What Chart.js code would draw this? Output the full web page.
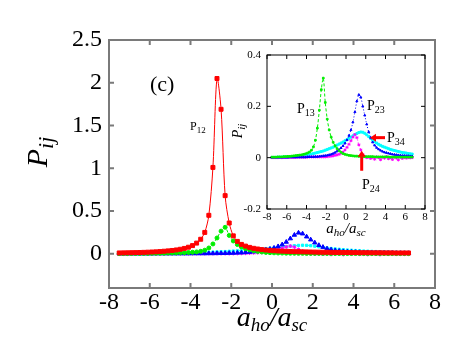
<!DOCTYPE html>
<html>
<head>
<meta charset="utf-8">
<script src="https://cdn.jsdelivr.net/npm/chart.js@4.4.0/dist/chart.umd.min.js"></script>
<style>
  body { margin: 0; background: #fff; }
</style>
</head>
<body>
<canvas id="main" width="463" height="358"></canvas>
<script>
// a_ho/a_sc grid
const xs = [-7.5,-7.3,-7.1,-6.9,-6.7,-6.5,-6.3,-6.1,-5.9,-5.7,-5.5,-5.3,-5.1,-4.9,-4.7,-4.5,-4.3,-4.1,-3.9,-3.7,
  -3.5,-3.3,-3.1,-2.9,-2.7,-2.5,-2.3,-2.1,-1.9,-1.7,-1.5,-1.3,-1.1,-0.9,-0.7,-0.5,-0.3,-0.1,0.1,0.3,
  0.5,0.7,0.9,1.1,1.3,1.5,1.7,1.9,2.1,2.3,2.5,2.7,2.9,3.1,3.3,3.5,3.7,3.9,4.1,4.3,
  4.5,4.7,4.9,5.1,5.3,5.5,5.7,5.9,6.1,6.3,6.5,6.7];

const p12 = [.010,.011,.012,.013,.014,.015,.017,.019,.021,.023,.026,.030,.034,.039,.045,.053,.063,.077,.096,.125,
  .17,.25,.45,1.01,2.05,1.69,.68,.36,.21,.145,.11,.09,.075,.064,.056,.049,.044,.040,.036,.033,
  .031,.029,.027,.025,.024,.023,.022,.021,.020,.019,.018,.018,.017,.016,.016,.015,.015,.014,.014,.013,
  .013,.013,.012,.012,.012,.011,.011,.011,.010,.010,.010,.010];

const p13 = [.002,.002,.002,.003,.003,.003,.004,.004,.005,.005,.006,.007,.008,.009,.010,.011,.013,.015,.018,.022,
  .029,.042,.068,.115,.185,.265,.31,.215,.15,.108,.08,.06,.046,.035,.027,.021,.016,.013,.011,.009,
  .008,.007,.006,.006,.005,.005,.004,.004,.004,.004,.004,.004,.003,.003,.003,.003,.003,.003,.003,.003,
  .002,.002,.002,.002,.002,.002,.002,.002,.002,.002,.002,.002];

const p23 = [.001,.001,.001,.001,.001,.001,.001,.001,.001,.002,.002,.002,.002,.002,.002,.002,.002,.002,.003,.003,
  .003,.003,.004,.004,.005,.006,.007,.008,.009,.011,.013,.016,.020,.025,.031,.038,.046,.056,.069,.086,
  .108,.138,.178,.22,.245,.235,.20,.165,.13,.10,.078,.06,.048,.039,.033,.028,.024,.021,.019,.017,
  .015,.013,.012,.011,.010,.009,.008,.008,.007,.007,.006,.006];

const p34 = [.001,.001,.001,.002,.002,.002,.003,.003,.003,.004,.004,.005,.005,.006,.007,.008,.009,.010,.011,.013,
  .014,.016,.018,.020,.022,.024,.026,.029,.032,.035,.038,.041,.045,.049,.053,.057,.061,.066,.070,.075,
  .080,.085,.090,.094,.098,.100,.099,.095,.089,.082,.075,.068,.062,.057,.052,.048,.044,.041,.038,.035,
  .032,.030,.028,.026,.024,.022,.020,.019,.018,.016,.015,.014];

const p24 = [.000,.000,.000,.000,.001,.000,.001,.001,.001,.001,.001,.001,.001,.002,.002,.002,.002,.002,.002,.003,
  .003,.003,.003,.003,.003,.003,.003,.003,.004,.005,.006,.007,.009,.011,.013,.017,.022,.030,.040,.052,
  .066,.080,.090,.078,.050,.030,.012,.004,.000,.002,-.003,.001,-.006,.003,.000,-.008,.002,-.002,.004,-.004,
  .000,-.007,.003,-.002,-.009,.002,-.003,.001,-.002,.000,-.001,.000];

const mainXTicks = [-8,-6,-4,-2,0,2,4,6,8];
const mainYTicks = [0,0.5,1,1.5,2,2.5];
const mainYLabels = ['0','0.5','1','1.5','2','2.5'];
const insetXTicks = [-8,-6,-4,-2,0,2,4,6,8];
const insetYTicks = [-0.2,0,0.2,0.4];
const insetYLabels = ['-0.2','0','0.2','0.4'];

const serif = "'Liberation Serif', 'Times New Roman', serif";
// where the inset sits on the canvas
const insetBox = { left: 267, right: 425, top: 55, bottom: 209 };

function pts(vals) {
  return xs.map((x, i) => ({ x: x, y: vals[i] }));
}

// text made of pieces: [text, size, dy, italic]
function richText(ctx, x, y, parts, align) {
  let w = 0;
  parts.forEach(p => {
    ctx.font = (p[3] ? 'italic ' : '') + p[1] + 'px ' + serif;
    w += ctx.measureText(p[0]).width;
  });
  let cx = align === 'center' ? x - w / 2 : x;
  parts.forEach(p => {
    ctx.font = (p[3] ? 'italic ' : '') + p[1] + 'px ' + serif;
    ctx.fillText(p[0], cx, y + p[2]);
    cx += ctx.measureText(p[0]).width;
  });
}

// box with ticks pointing inwards
function drawBox(ctx, xS, yS, l, r, t, b, xTicks, yTicks, color, lw, len) {
  ctx.save();
  ctx.setLineDash([]);
  ctx.strokeStyle = color;
  ctx.lineWidth = lw;
  ctx.strokeRect(l, t, r - l, b - t);
  ctx.beginPath();
  xTicks.forEach(v => {
    const px = xS.getPixelForValue(v);
    ctx.moveTo(px, b); ctx.lineTo(px, b - len);
    ctx.moveTo(px, t); ctx.lineTo(px, t + len);
  });
  yTicks.forEach(v => {
    const py = yS.getPixelForValue(v);
    ctx.moveTo(l, py); ctx.lineTo(l + len, py);
    ctx.moveTo(r, py); ctx.lineTo(r - len, py);
  });
  ctx.stroke();
  ctx.restore();
}

function arrow(ctx, x1, y1, x2, y2) {
  const ang = Math.atan2(y2 - y1, x2 - x1);
  const hl = 6, hw = 4;
  const bx = x2 - hl * Math.cos(ang), by = y2 - hl * Math.sin(ang);
  ctx.save();
  ctx.strokeStyle = '#ff0000';
  ctx.fillStyle = '#ff0000';
  ctx.lineWidth = 3;
  ctx.beginPath();
  ctx.moveTo(x1, y1);
  ctx.lineTo(bx, by);
  ctx.stroke();
  ctx.beginPath();
  ctx.moveTo(x2, y2);
  ctx.lineTo(bx - hw * Math.sin(ang), by + hw * Math.cos(ang));
  ctx.lineTo(bx + hw * Math.sin(ang), by - hw * Math.cos(ang));
  ctx.closePath();
  ctx.fill();
  ctx.restore();
}

const decor = {
  id: 'decor',
  afterLayout(chart) {
    // move the hidden inset scales into the inset box
    const ix = chart.scales.ix, iy = chart.scales.iy;
    ix.left = insetBox.left; ix.right = insetBox.right; ix.width = insetBox.right - insetBox.left;
    ix.top = insetBox.bottom; ix.bottom = insetBox.bottom; ix.height = 0;
    iy.left = insetBox.left; iy.right = insetBox.left; iy.width = 0;
    iy.top = insetBox.top; iy.bottom = insetBox.bottom; iy.height = insetBox.bottom - insetBox.top;
    ix.configure();
    iy.configure();
  },
  afterDatasetsDraw(chart) {
    const ctx = chart.ctx, a = chart.chartArea, s = chart.scales;
    drawBox(ctx, s.x, s.y, a.left, a.right, a.top, a.bottom, mainXTicks, mainYTicks, '#7a7a7a', 2, 5);
    drawBox(ctx, s.ix, s.iy, insetBox.left, insetBox.right, insetBox.top, insetBox.bottom,
      insetXTicks, insetYTicks, '#000', 1, 4);
  },
  afterDraw(chart) {
    const ctx = chart.ctx, a = chart.chartArea;
    const xS = chart.scales.x, yS = chart.scales.y, ix = chart.scales.ix, iy = chart.scales.iy;
    ctx.save();
    ctx.fillStyle = '#000';

    // inset tick labels
    ctx.font = '11px ' + serif;
    ctx.textAlign = 'right';
    ctx.textBaseline = 'middle';
    insetYTicks.forEach((v, i) => ctx.fillText(insetYLabels[i], insetBox.left - 6, iy.getPixelForValue(v)));
    ctx.textAlign = 'center';
    ctx.textBaseline = 'top';
    insetXTicks.forEach(v => ctx.fillText(String(v), ix.getPixelForValue(v), insetBox.bottom + 3));

    ctx.textAlign = 'left';
    ctx.textBaseline = 'alphabetic';
    // main axis titles
    richText(ctx, (a.left + a.right) / 2, 326,
      [['a', 28, 0, true], ['ho', 19, 5, true], ['/', 28, 0, true], ['a', 28, 0, true], ['sc', 19, 5, true]], 'center');
    ctx.save();
    ctx.translate(47, 152);
    ctx.rotate(-Math.PI / 2);
    richText(ctx, 0, 0, [['P', 30, 0, true], ['ij', 22, 6, true]], 'center');
    ctx.restore();
    richText(ctx, xS.getPixelForValue(-5.99), yS.getPixelForValue(1.90), [['(c)', 22, 0, false]], 'left');
    richText(ctx, xS.getPixelForValue(-4.02), yS.getPixelForValue(1.45), [['P', 12, 0, false], ['12', 9, 3, false]], 'left');

    // inset axis titles
    richText(ctx, (insetBox.left + insetBox.right) / 2, 233,
      [['a', 15, 0, true], ['ho', 11, 3, true], ['/', 15, 0, true], ['a', 15, 0, true], ['sc', 11, 3, true]], 'center');
    ctx.save();
    ctx.translate(242, 131);
    ctx.rotate(-Math.PI / 2);
    richText(ctx, 0, 0, [['P', 14, 0, true], ['ij', 11, 3, true]], 'center');
    ctx.restore();

    // inset curve labels and arrows
    const lab = (x, y, sub) => richText(ctx, ix.getPixelForValue(x), iy.getPixelForValue(y),
      [['P', 14, 0, false], [sub, 10, 3, false]], 'left');
    lab(-4.96, 0.175, '13');
    lab(2.13, 0.187, '23');
    lab(4.15, 0.062, '34');
    lab(1.62, -0.121, '24');
    arrow(ctx, ix.getPixelForValue(3.95), iy.getPixelForValue(0.078), ix.getPixelForValue(2.43), iy.getPixelForValue(0.078));
    arrow(ctx, ix.getPixelForValue(1.59), iy.getPixelForValue(-0.051), ix.getPixelForValue(1.59), iy.getPixelForValue(0.027));
    ctx.restore();
  }
};

function ds(vals, color, style, r, dash, inset) {
  return {
    data: pts(vals),
    xAxisID: inset ? 'ix' : 'x',
    yAxisID: inset ? 'iy' : 'y',
    showLine: true,
    borderColor: color,
    backgroundColor: color,
    borderWidth: 1,
    borderDash: dash,
    pointStyle: style,
    pointRadius: r,
    pointBorderWidth: 1,
    tension: 0.3
  };
}

new Chart(document.getElementById('main'), {
  type: 'scatter',
  data: {
    datasets: [
      ds(p12, '#ff0000', 'rect', 2.8, [], false),
      ds(p13, '#00ee00', 'circle', 2, [3, 2], false),
      ds(p23, '#0000ff', 'triangle', 2.5, [1, 2], false),
      ds(p24, '#ff00ff', 'star', 2, [1, 2], false),
      ds(p34, '#00ffff', 'rect', 1.6, [1, 2], false),
      ds(p13, '#00ee00', 'rect', 1.2, [3, 2], true),
      ds(p23, '#0000ff', 'triangle', 1.2, [1, 2], true),
      ds(p24, '#ff00ff', 'star', 1.5, [1, 2], true),
      ds(p34, '#00ffff', 'rect', 1.4, [1, 2], true)
    ]
  },
  options: {
    responsive: false,
    animation: false,
    layout: { padding: { left: 0, top: 40, right: 28, bottom: 0 } },
    plugins: { legend: { display: false }, tooltip: { enabled: false } },
    scales: {
      x: {
        type: 'linear', min: -8, max: 8,
        afterBuildTicks: s => { s.ticks = mainXTicks.map(v => ({ value: v })); },
        afterFit: s => { s.height = 70; },
        grid: { display: false, drawTicks: false },
        border: { display: false },
        ticks: { color: '#000', padding: 0, font: { family: serif, size: 24 }, maxRotation: 0,
          callback: v => String(v) }
      },
      y: {
        type: 'linear', min: -0.4, max: 2.5,
        afterBuildTicks: s => { s.ticks = mainYTicks.map(v => ({ value: v })); },
        afterFit: s => { s.width = 109; },
        grid: { display: false, drawTicks: false },
        border: { display: false },
        ticks: { color: '#000', padding: 7, font: { family: serif, size: 24 },
          callback: (v, i) => mainYLabels[i] }
      },
      ix: { type: 'linear', axis: 'x', position: 'bottom', min: -8, max: 8, display: false },
      iy: { type: 'linear', axis: 'y', position: 'left', min: -0.2, max: 0.4, display: false }
    }
  },
  plugins: [decor]
});
</script>
</body>
</html>
